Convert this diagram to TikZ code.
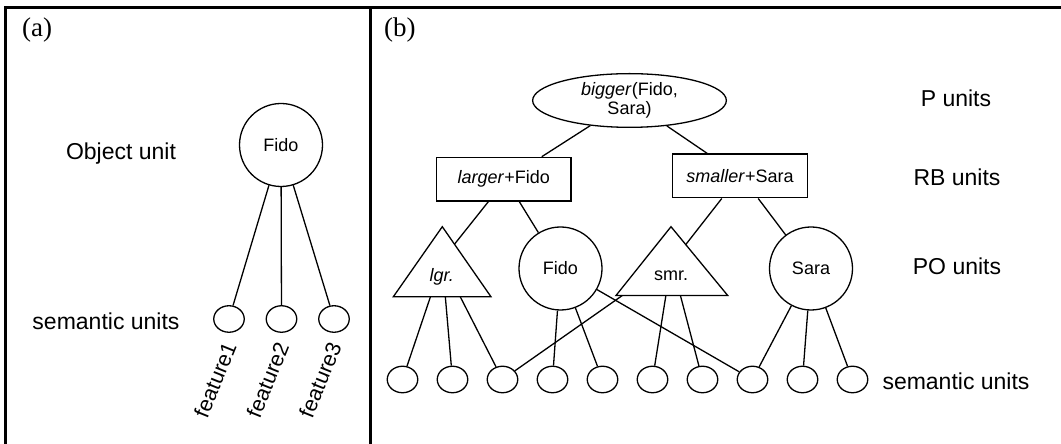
\documentclass[tikz,border=0pt]{standalone}
\usepackage{fontspec}
\setmainfont{Liberation Sans}
\newfontfamily\serifpanel{Liberation Serif}
\usetikzlibrary{shapes.geometric,calc}
\begin{document}
\begin{tikzpicture}[x=1pt,y=1pt,
  unit/.style={draw,line width=1.3pt,inner sep=0pt},
  bigcirc/.style={unit,circle,minimum size=83pt,font=\fontsize{18}{20}\selectfont},
  sem/.style={unit,ellipse,minimum width=30.5pt,minimum height=26.5pt},
  rbbox/.style={unit,rectangle,minimum width=134.7pt,minimum height=43.7pt,font=\fontsize{18}{20}\selectfont},
  lab/.style={font=\fontsize{23}{26}\selectfont,anchor=base,inner sep=0pt},
  feat/.style={font=\fontsize{21.5}{24}\selectfont,anchor=east,rotate=68,inner sep=0pt},
  conn/.style={line width=1.3pt},
  framestyle/.style={line width=3pt},
  panel/.style={font=\serifpanel\fontsize{27}{30}\selectfont,anchor=base west,inner sep=0pt},
  nodetext/.style={font=\fontsize{18}{20}\selectfont,inner sep=0pt}
]
\useasboundingbox (0,0) rectangle (1061,444);
% frame
\draw[framestyle] (5.5,-2) -- (5.5,436) -- (1063,436);
\draw[framestyle] (370.5,436) -- (370.5,-2);

% ---------- panel (a)
\node[panel] (pa) at (22,407) {(a)};
\node[lab] (objlab) at (121,284) {Object unit};
\node[bigcirc] (fidoA) at (281,299) {Fido};
\node[sem] (f1) at (229,125) {};
\node[sem] (f2) at (281.5,125) {};
\node[sem] (f3) at (334,125) {};
\node[lab] (semA) at (106,114) {semantic units};
\node[feat] (t1) at (230,101) {feature1};
\node[feat] (t2) at (282.5,101) {feature2};
\node[feat] (t3) at (335,101) {feature3};
\draw[conn] (fidoA) -- (f1);
\draw[conn] (fidoA) -- (f2);
\draw[conn] (fidoA) -- (f3);

% ---------- panel (b)
\node[panel] (pb) at (384,407) {(b)};
\node[unit,ellipse,minimum width=193.7pt,minimum height=53.7pt,align=center,
      font=\fontsize{18}{19.5}\selectfont] (bigger) at (629.5,343.5) {\textit{bigger}(Fido,\\Sara)};
\node[rbbox] (larger) at (503.7,264.8) {\textit{larger}+Fido};
\node[rbbox] (smaller) at (740,268) {\textit{smaller}+Sara};

% triangles
\coordinate (lgrT) at (442.3,217.3);
\coordinate (lgrL) at (393.3,147.2);
\coordinate (lgrR) at (491,147.2);
\coordinate (lgrC) at (442.3,182.3);
\draw[conn] (lgrT) -- (lgrL) -- (lgrR) -- cycle;
\node[nodetext] (lgr) at (441.7,167.3) {\textit{lgr.}};

\coordinate (smrT) at (671,217.3);
\coordinate (smrL) at (616,148.5);
\coordinate (smrR) at (727.7,148.5);
\coordinate (smrC) at (671.4,182.9);
\draw[conn] (smrT) -- (smrL) -- (smrR) -- cycle;
\node[nodetext] (smr) at (671,168) {smr.};

\node[bigcirc] (fidoB) at (560.5,175.5) {Fido};
\node[bigcirc] (sara) at (811,175.5) {Sara};

\foreach \i in {1,...,10} \node[sem] (e\i) at ({352.5+50*\i},64.5) {};

% labels
\node[lab] (plab) at (956,337) {P units};
\node[lab] (rblab) at (957,258) {RB units};
\node[lab] (polab) at (957,169) {PO units};
\node[lab] (semB) at (956,54) {semantic units};

% connectors P -> RB
\draw[conn] ($(larger.north west)!0.78!(larger.north east)$) -- (bigger);
\draw[conn] ($(smaller.north west)!0.26!(smaller.north east)$) -- (bigger);
% RB -> PO
\coordinate (lgrHit) at ($(lgrT)!0.25!(lgrR)$);
\draw[conn] ($(larger.south west)!0.387!(larger.south east)$) -- (lgrHit);
\draw[conn] ($(larger.south west)!0.615!(larger.south east)$) -- (fidoB);
\coordinate (smrHit) at ($(smrT)!0.26!(smrR)$);
\draw[conn] ($(smaller.south west)!0.366!(smaller.south east)$) -- (smrHit);
\draw[conn] ($(smaller.south west)!0.634!(smaller.south east)$) -- (sara);
% PO -> semantic
\draw[conn] (intersection of lgrL--lgrR and lgrC--e1) -- (e1);
\draw[conn] (intersection of lgrL--lgrR and lgrC--e2) -- (e2);
\draw[conn] (intersection of lgrL--lgrR and lgrC--e3) -- (e3);
\draw[conn] (intersection of smrL--smrR and smrC--e3) -- (e3);
\draw[conn] (intersection of smrL--smrR and smrC--e6) -- (e6);
\draw[conn] (intersection of smrL--smrR and smrC--e7) -- (e7);
\draw[conn] (fidoB) -- (e4);
\draw[conn] (fidoB) -- (e5);
\draw[conn] (fidoB) -- (e8);
\draw[conn] (sara) -- (e8);
\draw[conn] (sara) -- (e9);
\draw[conn] (sara) -- (e10);
\end{tikzpicture}
\end{document}
